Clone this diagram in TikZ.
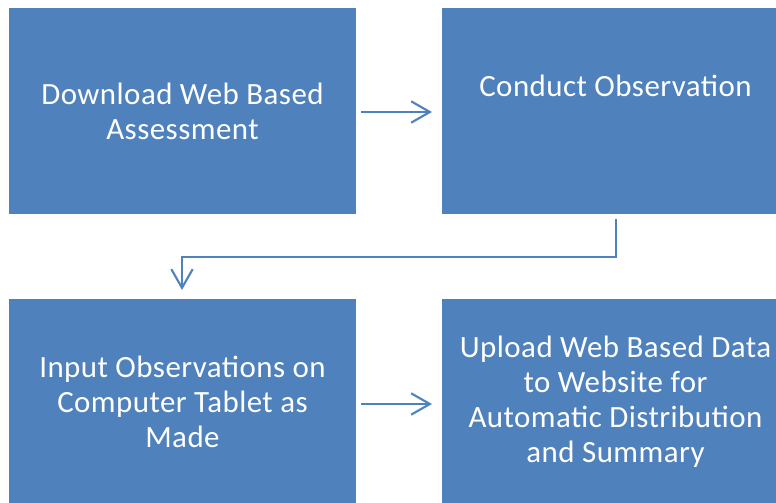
\documentclass[tikz,border=0pt]{standalone}
\usepackage{fontspec}
\setmainfont{Carlito}[LetterSpace=1.5]
\usetikzlibrary{arrows.meta}
\definecolor{boxblue}{HTML}{4F81BD}
\tikzset{
  stepbox/.style={draw=none, fill=boxblue, minimum width=347*0.75pt, minimum height=206*0.75pt, inner sep=0pt},
  txt/.style={text=white, font=\fontsize{23.2}{26.3}\selectfont, align=center},
  conn/.style={draw=boxblue, line width=1.6pt, -{Straight Barb[length=14pt, width=16pt, line width=1.6pt]}},
}
\begin{document}
\begin{tikzpicture}[x=0.75pt, y=-0.75pt]
\useasboundingbox (0,0) rectangle (776,503);
\clip (0,0) rectangle (776,503);
\node[stepbox, txt] (b1) at (182.5,111) {Download Web Based\\Assessment};
\node[stepbox] (b2) at (615.5,111) {};
\node[txt] (b2t) at (615.5,86) {Conduct Observation};
\node[stepbox, txt] (b3) at (182.5,402) {Input Observations on\\Computer Tablet as\\Made};
\node[stepbox, txt] (b4) at (615.5,402) {Upload Web Based Data\\to Website for\\Automatic Distribution\\and Summary};
\coordinate (a1s) at (361,112);
\coordinate (a1e) at (432,112);
\draw[conn] (a1s) -- (a1e);
\coordinate (a3s) at (361,404);
\coordinate (a3e) at (432,404);
\draw[conn] (a3s) -- (a3e);
\coordinate (e1) at (616,219);
\coordinate (e2) at (616,257);
\coordinate (e3) at (182,257);
\coordinate (e4) at (182,290);
\draw[conn] (e1) -- (e2) -- (e3) -- (e4);
\end{tikzpicture}
\end{document}
